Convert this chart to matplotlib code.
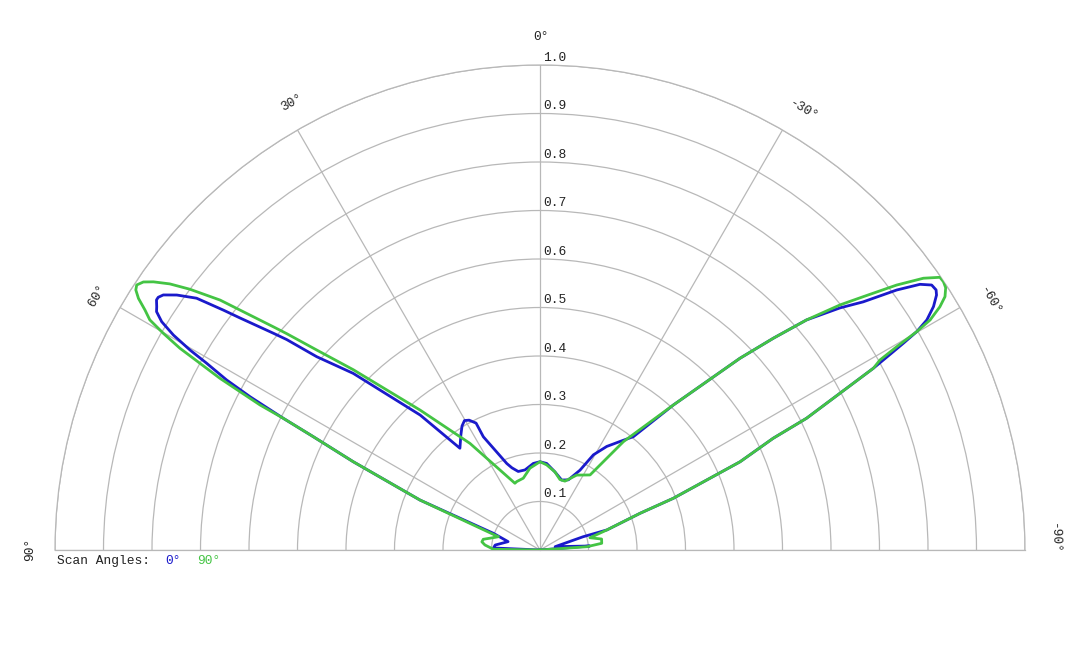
import numpy as np
import matplotlib
matplotlib.use("Agg")
import matplotlib.pyplot as plt

# ------------------------------------------------------------
# data: beam pattern (angle in deg, normalised magnitude)
# ------------------------------------------------------------
theta_0 = [90, 87.5, 83.7, 75.3, 70.3, 67.4, 64.7, 63.44, 62.84, 62.14, 61.52,
           60.74, 60.26, 59.62, 58.89, 58.13, 57.6, 56.89, 56.5, 55.9, 54.93,
           53.75, 52.85, 52.28, 50.9, 50.28, 49.12, 46.6, 41.6, 38.2, 34.5, 32.17,
           30.25, 28.64, 26.74, 26.58, 21.0, 18.85, 15.5, 10.6, 4.4, 0, -4.4,
           -10.8, -17.2, -22.0, -26.6, -29.3, -32.8, -36.4, -39.5, -42.6, -46.2,
           -47.78, -49.2, -51.1, -52.48, -53.91, -55.04, -55.92, -56.71, -57.26,
           -58.26, -59.26, -59.9, -60.36, -60.7, -61.4, -63.7, -64.4, -66.2, -68.8,
           -69.85, -73.3, -72.9, -77.6, -85.4, -90]
mag_0 = [0, 0.096, 0.093, 0.068, 0.102, 0.268, 0.426, 0.523, 0.595, 0.676, 0.735,
         0.788, 0.831, 0.876, 0.911, 0.931, 0.936, 0.944, 0.944, 0.938, 0.915,
         0.878, 0.819, 0.782, 0.709, 0.679, 0.609, 0.530, 0.372, 0.267, 0.288, 0.302,
         0.309, 0.305, 0.293, 0.261, 0.191, 0.179, 0.168, 0.168, 0.179, 0.182, 0.179,
         0.164, 0.151, 0.156, 0.184, 0.225, 0.254, 0.278, 0.303, 0.406, 0.571,
         0.650, 0.726, 0.795, 0.840, 0.910, 0.956, 0.975, 0.977, 0.972,
         0.954, 0.928, 0.898, 0.862, 0.835, 0.783, 0.613, 0.533, 0.451, 0.295,
         0.220, 0.144, 0.093, 0.032, 0.103, 0]

theta_90 = [90, 89.1, 84.8, 82.0, 79.3, 74.2, 72.3, 67.4, 64.7, 63.44, 62.84,
            62.62, 62.18, 61.79, 61.23, 60.74, 60.09, 59.47, 58.72, 57.93, 57.24,
            56.69, 55.95, 55.25, 54.29, 53.32, 52.0, 50.07, 49.5, 48.15, 46.0, 40.6,
            33.3, 20.6, 18.8, 13.1, 7.0, 0, -4.5, -10.8, -15.8, -19.9, -26.1, -33.7,
            -37.6, -42.6, -46.2, -47.78, -49.2, -50.76, -51.92, -53.39, -54.67,
            -55.71, -56.38, -57.12, -57.97, -58.69, -59.47, -59.9, -60.32, -60.8,
            -61.4, -63.7, -64.4, -66.2, -68.8, -69.85, -73.3, -76.2, -79.9, -83.8,
            -86.0, -90]
mag_90 = [0, 0.096, 0.114, 0.121, 0.119, 0.096, 0.090, 0.268, 0.426, 0.523, 0.595,
          0.650, 0.699, 0.749, 0.800, 0.851, 0.896, 0.934, 0.953, 0.977, 0.991,
          0.995, 0.987, 0.970, 0.940, 0.900, 0.837, 0.717, 0.687, 0.618, 0.535, 0.380,
          0.263, 0.147, 0.149, 0.152, 0.170, 0.182, 0.176, 0.164, 0.151, 0.151, 0.172,
          0.186, 0.282, 0.406, 0.571, 0.650, 0.726, 0.799, 0.847, 0.916, 0.969,
          0.998, 0.999, 0.996, 0.985, 0.965, 0.934, 0.898, 0.847, 0.803,
          0.783, 0.613, 0.533, 0.451, 0.295, 0.220, 0.144, 0.106, 0.129, 0.128,
          0.097, 0]

ring_values = [0.1, 0.2, 0.3, 0.4, 0.5, 0.6, 0.7, 0.8, 0.9, 1.0]
spoke_angles = [-90, -60, -30, 0, 30, 60, 90]
# (label, angle, radius) for the angle captions round the rim
angle_labels = [("90°", 89.9, 1.052), ("60°", 60.1, 1.054), ("30°", 29.0, 1.054),
                ("0°", -0.1, 1.058), ("-30°", -30.9, 1.057), ("-60°", -61.0, 1.06),
                ("-90°", -88.7, 1.06)]

BLUE = "#1a1acb"
GREEN = "#44c444"
GRID = "#b8b8b8"
FONT = ["Liberation Mono", "DejaVu Sans Mono"]
FS = 9.3

plt.rcParams["font.family"] = FONT

fig = plt.figure(figsize=(10.8, 6.48), dpi=100)
# polar axes keep a square box; the half disc sits in its middle
# half disc: x 55..1025 px, y 65..550 px (from top) -> square box 970 px
box = 970
cy = (65 + 550) / 2
ax = fig.add_axes([55 / 1080, (648 - (cy + box / 2)) / 648, box / 1080, box / 648],
                  projection="polar")
ax.set_theta_zero_location("N")
ax.set_theta_direction(1)
ax.set_thetamin(-90)
ax.set_thetamax(90)
ax.set_rlim(0, 1)

ax.set_thetagrids(spoke_angles, labels=[""] * len(spoke_angles))
ax.set_rgrids(ring_values, labels=[""] * len(ring_values))
ax.grid(True, color=GRID, linewidth=0.9)
ax.tick_params(length=0)
for name in ["polar", "start", "end"]:
    ax.spines[name].set_color(GRID)
    ax.spines[name].set_linewidth(0.9)
ax.spines["inner"].set_visible(False)

# pattern curves (90 deg scan drawn on top, as in the original)
ax.plot(np.deg2rad(theta_0), mag_0, color=BLUE, linewidth=2.0, zorder=3,
        solid_joinstyle="round")
ax.plot(np.deg2rad(theta_90), mag_90, color=GREEN, linewidth=2.0, zorder=4,
        solid_joinstyle="round")

# radial labels next to the 0 deg spoke
for v in ring_values:
    ax.annotate(f"{v:.1f}", xy=(0, v), xytext=(2.2, 3.0), textcoords="offset points",
                ha="left", va="baseline", fontsize=FS, color="#222222")

# angle captions
for txt, ang, rad in angle_labels:
    ax.text(np.deg2rad(ang), rad, txt, rotation=ang, rotation_mode="anchor",
            ha="center", va="center", fontsize=FS, color="#222222")

# legend line under the chart
y_leg = 1 - 561 / 648
fig.text(57 / 1080, y_leg, "Scan Angles:", ha="left", va="center",
         fontsize=FS, color="#222222")
fig.text(165 / 1080, y_leg, "0°", ha="left", va="center", fontsize=FS, color=BLUE)
fig.text(197 / 1080, y_leg, "90°", ha="left", va="center", fontsize=FS, color=GREEN)

fig.savefig("out.png", dpi=100)
